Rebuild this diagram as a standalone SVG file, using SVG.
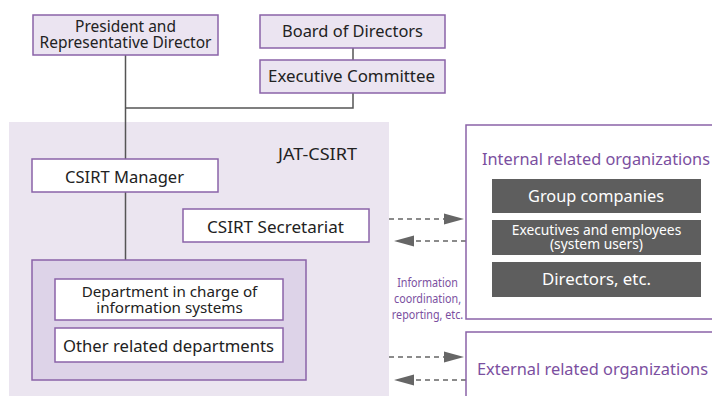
<svg xmlns="http://www.w3.org/2000/svg" width="712" height="396" viewBox="0 0 712 396">
<defs>
<style>
text{font-family:"Noto Sans","Open Sans","Liberation Sans",sans-serif;fill:#222}
.c{text-anchor:middle}
.node{fill:#ebe4f1;stroke:#8a63a8;stroke-width:1.5}
.wnode{fill:#fff;stroke:#8a63a8;stroke-width:1.5}
.dark{fill:#5e5e5e}
.t16{font-size:16px}
.wt{fill:#fff}
.purple{fill:#7b4fa0}
.line{stroke:#555;stroke-width:1.5;fill:none}
.dash{stroke:#666;stroke-width:1.3;stroke-dasharray:5 4;fill:none}
.head{fill:#666}
</style>
</defs>
<rect x="9" y="122" width="380" height="280" fill="#ebe5f0"/>
<g id="connectors">
<path class="line" d="M125.5 55V159M125.5 192V260M353 48V60M353 93V108H125.5"/>
<path class="dash" d="M389 219H444M466 241H414M389 357H444M466 380H414"/>
<polygon class="head" points="444,213.5 464,219 444,224.5"/>
<polygon class="head" points="414,235.5 394,241 414,246.5"/>
<polygon class="head" points="444,351.5 464,357 444,362.5"/>
<polygon class="head" points="414,374.5 394,380 414,385.5"/>
</g>
<g id="president">
<rect class="node" x="33" y="15" width="185" height="40"/>
<text class="c" font-size="15.5" x="125.5" y="32">President and<tspan x="125.5" y="48">Representative Director</tspan></text>
</g>
<g id="board">
<rect class="node" x="260" y="15" width="185" height="33"/>
<text class="t16" x="282" y="37" textLength="141" lengthAdjust="spacingAndGlyphs">Board of Directors</text>
</g>
<g id="exec">
<rect class="node" x="260" y="60" width="185" height="33"/>
<text class="t16" x="268" y="82" textLength="167" lengthAdjust="spacingAndGlyphs">Executive Committee</text>
</g>
<g id="jat">
<text class="t16" x="278" y="160" textLength="79" lengthAdjust="spacingAndGlyphs">JAT-CSIRT</text>
</g>
<g id="manager">
<rect class="wnode" x="32" y="159" width="186" height="33"/>
<text class="t16" x="65" y="183" textLength="119" lengthAdjust="spacingAndGlyphs">CSIRT Manager</text>
</g>
<g id="secretariat">
<rect class="wnode" x="183" y="209" width="186" height="33"/>
<text class="t16" x="207" y="233" textLength="137" lengthAdjust="spacingAndGlyphs">CSIRT Secretariat</text>
</g>
<g id="depts">
<rect x="32" y="260" width="274" height="120" fill="#ddd3e8" stroke="#8a63a8" stroke-width="1.5"/>
<rect class="wnode" x="55" y="279" width="228" height="41"/>
<text class="c" font-size="15.2" x="169.5" y="297">Department in charge of<tspan x="169.5" y="313">information systems</tspan></text>
<rect class="wnode" x="55" y="328" width="228" height="34"/>
<text class="t16" x="63" y="352" textLength="211" lengthAdjust="spacingAndGlyphs">Other related departments</text>
</g>
<g id="info-label">
<text class="c purple" font-size="12.5" transform="translate(427.5,0) scale(0.86,1)" x="0" y="287">Information<tspan x="0" y="303">coordination,</tspan><tspan x="0" y="319">reporting, etc.</tspan></text>
</g>
<g id="internal">
<rect x="466" y="125" width="260" height="194" fill="#fff" stroke="#8a63a8" stroke-width="1.5"/>
<text class="purple t16" x="482" y="165" textLength="228" lengthAdjust="spacingAndGlyphs">Internal related organizations</text>
<rect class="dark" x="492" y="179" width="209" height="34"/>
<text class="t16 wt" x="528" y="202" textLength="136" lengthAdjust="spacingAndGlyphs">Group companies</text>
<rect class="dark" x="492" y="220" width="209" height="35"/>
<text class="c wt" font-size="13.8" x="596.5" y="235">Executives and employees<tspan x="596.5" y="249">(system users)</tspan></text>
<rect class="dark" x="492" y="262" width="209" height="35"/>
<text class="t16 wt" x="542" y="285" textLength="109" lengthAdjust="spacingAndGlyphs">Directors, etc.</text>
</g>
<g id="external">
<rect x="466" y="332" width="260" height="80" fill="#fff" stroke="#8a63a8" stroke-width="1.5"/>
<text class="purple t16" x="477" y="375" textLength="231" lengthAdjust="spacingAndGlyphs">External related organizations</text>
</g>
</svg>
